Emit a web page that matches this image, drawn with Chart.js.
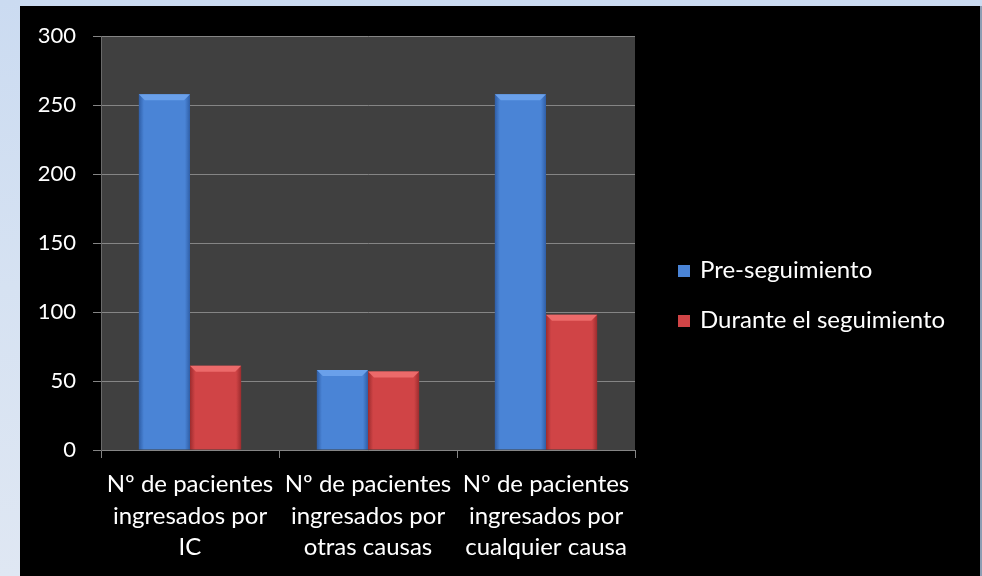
<!DOCTYPE html>
<html>
<head>
<meta charset="utf-8">
<script src="https://cdn.jsdelivr.net/npm/chart.js@4.4.3/dist/chart.umd.min.js"></script>
<style>
  html, body { margin: 0; padding: 0; }
  body {
    width: 982px; height: 576px; overflow: hidden; position: relative;
    background: linear-gradient(180deg, #cbdbf1 0%, #d6e2f2 50%, #dfe7f3 100%);
  }
  #panel {
    position: absolute; left: 20px; top: 6px; width: 960px; height: 570px;
    background: #000;
  }
  #edge {
    position: absolute; left: 980px; top: 6px; width: 2px; height: 570px;
    background: #8d9db3;
  }
</style>
</head>
<body>
<div id="panel"><canvas id="chart" width="960" height="570"></canvas></div>
<div id="edge"></div>
<script>
// Hospital admissions before and during follow-up
const categories = [
  ['Nº de pacientes', 'ingresados por', 'IC'],
  ['Nº de pacientes', 'ingresados por', 'otras causas'],
  ['Nº de pacientes', 'ingresados por', 'cualquier causa']
];
const preSeguimiento = [258, 58, 258];
const duranteSeguimiento = [61, 57, 98];
const seriesNames = ['Pre-seguimiento', 'Durante el seguimiento'];
const yTicks = [0, 50, 100, 150, 200, 250, 300];

const FONT = 'Lato, "Open Sans", sans-serif';
const GRID = '#858585';

const shades = [
  { dark: '#2f5ea6', mid: '#4a84d6', light: '#6aa0ea' },
  { dark: '#9c2c2e', mid: '#d04446', light: '#ec6a6a' }
];

// grey plot background behind the bars
const plotBg = {
  id: 'plotBg',
  beforeDraw(chart) {
    const { ctx, chartArea: a } = chart;
    ctx.save();
    ctx.fillStyle = '#404040';
    ctx.fillRect(a.left, a.top, a.right - a.left, a.bottom - a.top);
    ctx.restore();
  }
};

// rounded look for each bar: horizontal shading plus a bevelled top
const barShading = {
  id: 'barShading',
  beforeDatasetsDraw(chart) {
    const ctx = chart.ctx;
    chart.data.datasets.forEach((ds, i) => {
      const s = shades[i];
      chart.getDatasetMeta(i).data.forEach(bar => {
        const x0 = bar.x - bar.width / 2, x1 = bar.x + bar.width / 2;
        const g = ctx.createLinearGradient(x0, 0, x1, 0);
        g.addColorStop(0, s.dark);
        g.addColorStop(0.1, s.mid);
        g.addColorStop(0.9, s.mid);
        g.addColorStop(1, s.dark);
        bar.options.backgroundColor = g;
      });
    });
  },
  afterDatasetsDraw(chart) {
    const ctx = chart.ctx;
    chart.data.datasets.forEach((ds, i) => {
      const s = shades[i];
      chart.getDatasetMeta(i).data.forEach(bar => {
        const x0 = bar.x - bar.width / 2, x1 = bar.x + bar.width / 2;
        const b = 6;
        ctx.save();
        ctx.fillStyle = s.light;
        ctx.beginPath();
        ctx.moveTo(x0, bar.y);
        ctx.lineTo(x1, bar.y);
        ctx.lineTo(x1 - b, bar.y + b);
        ctx.lineTo(x0 + b, bar.y + b);
        ctx.closePath();
        ctx.fill();
        ctx.restore();
      });
    });
  }
};

// legend to the right of the plot, one series per row
const sideLegend = {
  id: 'sideLegend',
  afterDraw(chart) {
    const { ctx, chartArea: a } = chart;
    const x = a.right + 43;
    const rowGap = 50;
    const y0 = chart.height / 2 + 4 - rowGap / 2;
    ctx.save();
    ctx.font = '24px ' + FONT;
    ctx.textBaseline = 'middle';
    chart.data.datasets.forEach((ds, i) => {
      const y = y0 + i * rowGap;
      ctx.fillStyle = shades[i].mid;
      ctx.fillRect(x, y - 5, 12, 12);
      ctx.fillStyle = '#ffffff';
      ctx.fillText(ds.label, x + 22, y);
    });
    ctx.restore();
  }
};

new Chart(document.getElementById('chart'), {
  type: 'bar',
  data: {
    labels: categories,
    datasets: [
      { label: seriesNames[0], data: preSeguimiento, backgroundColor: () => shades[0].mid },
      { label: seriesNames[1], data: duranteSeguimiento, backgroundColor: () => shades[1].mid }
    ]
  },
  options: {
    responsive: false,
    animation: false,
    events: [],
    layout: { padding: { top: 30, left: 0, right: 345, bottom: 0 } },
    datasets: { bar: { barPercentage: 1, categoryPercentage: 0.575 } },
    plugins: {
      tooltip: { enabled: false },
      legend: { display: false }
    },
    scales: {
      x: {
        grid: { drawOnChartArea: false, drawTicks: true, tickLength: 8, color: GRID },
        border: { color: GRID },
        ticks: { color: '#ffffff', font: { family: FONT, size: 24, lineHeight: 1.3 }, padding: 11, maxRotation: 0, autoSkip: false },
        afterFit(scale) { scale.height = 126; }
      },
      y: {
        min: 0,
        max: 300,
        afterBuildTicks(scale) { scale.ticks = yTicks.map(v => ({ value: v })); },
        grid: { color: GRID, tickLength: 8 },
        border: { color: '#6a6a6a' },
        ticks: { color: '#ffffff', font: { family: FONT, size: 22 }, padding: 17 },
        afterFit(scale) { scale.width = 81; }
      }
    }
  },
  plugins: [plotBg, barShading, sideLegend]
});
</script>
</body>
</html>
